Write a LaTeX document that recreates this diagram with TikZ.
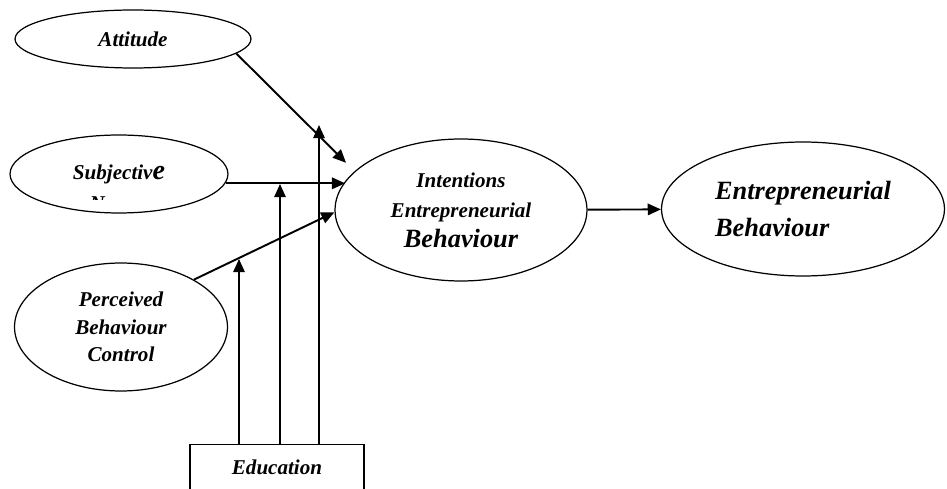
\documentclass[tikz,border=0pt]{standalone}
\usepackage{fontspec}
\setmainfont{Liberation Serif}
\usetikzlibrary{arrows.meta,shapes.geometric,positioning}
\begin{document}
\begin{tikzpicture}[x=0.02cm,y=-0.02cm,>={Triangle[length=7.5pt,width=6.5pt]},
    node/.style={ellipse,draw,line width=0.7pt,inner sep=0pt,align=center,font=\bfseries\itshape\fontsize{12}{14}\selectfont},
    link/.style={->,line width=1.1pt}]
  \clip (0,0) rectangle (947,489);
  \node[node, minimum width=4.72cm, minimum height=1.16cm] (att) at (133,39) {Attitude};
  \node[node, minimum width=4.36cm, minimum height=1.56cm] (subj) at (119,174) {Subjectiv{\fontsize{16}{18}\selectfont e}};
  \node[node, minimum width=4.26cm, minimum height=2.56cm, font=\bfseries\itshape\fontsize{12}{15.5}\selectfont] (pbc) at (121,327) {Perceived\\ Behaviour\\ Control};
  \node[node, minimum width=5.04cm, minimum height=2.84cm] (inten) at (461,210) {Intentions\\[3pt] Entrepreneurial\\[3pt] {\fontsize{15}{18}\selectfont Behaviour}};
  \node[node, minimum width=5.66cm, minimum height=2.68cm, align=left, font=\bfseries\itshape\fontsize{15}{21}\selectfont] (eb) at (803,209) {Entrepreneurial\\ Behaviour};
  \node[draw, line width=0.8pt, minimum width=3.48cm, inner ysep=0.3cm, anchor=north, font=\bfseries\itshape\fontsize{12}{14}\selectfont] (edu) at (277,444) {Education};
  \begin{scope}
    \clip (60,190) rectangle (180,200);
    \node[anchor=base, font=\bfseries\itshape\fontsize{12}{14}\selectfont] (norms) at (119,211) {Norms};
  \end{scope}

  \coordinate (e1) at (239,259);
  \coordinate (e2) at (280,184);
  \coordinate (e3) at (319,125);

  \draw[link, shorten >=0.24cm] (att.-8) -- (inten.160);
  \draw[link] (subj.-5) -- (subj.-5 -| inten.166);
  \draw[link] (pbc.33) -- (inten.181);
  \draw[link] (inten) -- (eb);
  \foreach \m in {e1,e2,e3}
    \draw[link] (\m |- edu.north) -- (\m);
\end{tikzpicture}
\end{document}
